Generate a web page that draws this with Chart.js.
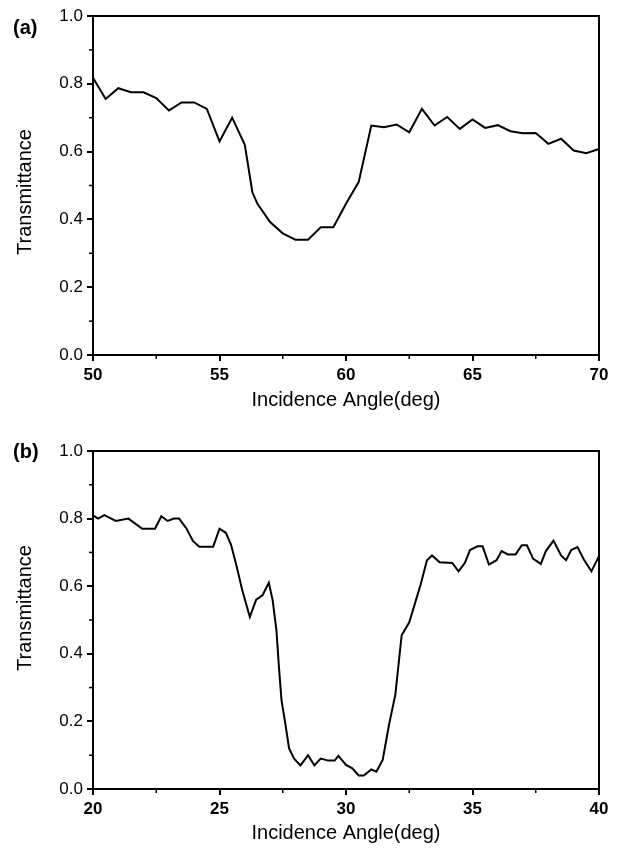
<!DOCTYPE html>
<html>
<head>
<meta charset="utf-8">
<script src="https://cdn.jsdelivr.net/npm/chart.js"></script>
<style>
  body { margin: 0; background: #fff; }
  #wrap { position: relative; width: 620px; height: 850px; }
  .panel { position: absolute; left: 0; width: 620px; height: 425px; }
  .tag { position: absolute; left: 13px; font: bold 20px "Liberation Sans", Arial, sans-serif; line-height: 1; color: #000; }
  .ytitle { position: absolute; left: 24px; width: 0; height: 0; }
  .ytitle span { position: absolute; left: 0; top: 0; transform: translate(-50%, -50%) rotate(-90deg);
                 white-space: nowrap; font: 20px "Liberation Sans", Arial, sans-serif; line-height: 1; color: #000; }
</style>
</head>
<body>
<div id="wrap">
  <div class="panel" style="top:0"><canvas id="chartA" width="620" height="425"></canvas></div>
  <div class="panel" style="top:425px"><canvas id="chartB" width="620" height="425"></canvas></div>
  <div class="tag" style="top:17px">(a)</div>
  <div class="tag" style="top:441px">(b)</div>
  <div class="ytitle" style="top:192px"><span class="yt"></span></div>
  <div class="ytitle" style="top:608px"><span class="yt"></span></div>
</div>
<script>
// (a) 入射角 50-70
const angleA = [50, 50.5, 51, 51.5, 52, 52.5, 53, 53.5, 54, 54.5, 55, 55.5, 56, 56.3, 56.5, 57, 57.5, 58, 58.5, 59, 59.5, 60, 60.5, 61, 61.5, 62, 62.5, 63, 63.5, 64, 64.5, 65, 65.5, 66, 66.5, 67, 67.5, 68, 68.5, 69, 69.5, 70];
const transA = [0.818, 0.755, 0.787, 0.775, 0.775, 0.758, 0.721, 0.745, 0.745, 0.726, 0.63, 0.70, 0.62, 0.48, 0.446, 0.392, 0.359, 0.34, 0.34, 0.377, 0.377, 0.446, 0.51, 0.677, 0.672, 0.68, 0.657, 0.726, 0.677, 0.702, 0.667, 0.695, 0.67, 0.678, 0.66, 0.654, 0.655, 0.623, 0.638, 0.603, 0.595, 0.608];

// (b) 入射角 20-40
const angleB = [20, 20.2, 20.45, 20.9, 21.4, 21.95, 22.45, 22.7, 22.95, 23.2, 23.4, 23.7, 23.95, 24.2, 24.75, 25.0, 25.25, 25.45, 25.65, 25.9, 26.2, 26.45, 26.7, 26.95, 27.1, 27.25, 27.35, 27.45, 27.6, 27.75, 27.95, 28.2, 28.5, 28.75, 29.0, 29.3, 29.55, 29.7, 30.0, 30.25, 30.5, 30.7, 31.0, 31.2, 31.45, 31.7, 31.95, 32.2, 32.5, 32.75, 32.95, 33.2, 33.4, 33.7, 34.2, 34.45, 34.7, 34.9, 35.2, 35.4, 35.65, 35.95, 36.15, 36.4, 36.7, 36.95, 37.15, 37.4, 37.7, 37.9, 38.2, 38.5, 38.7, 38.9, 39.15, 39.4, 39.7, 40.0];
const transB = [0.81, 0.80, 0.81, 0.793, 0.80, 0.77, 0.77, 0.807, 0.793, 0.80, 0.80, 0.77, 0.734, 0.717, 0.717, 0.77, 0.758, 0.724, 0.667, 0.588, 0.509, 0.56, 0.573, 0.61, 0.559, 0.47, 0.36, 0.263, 0.194, 0.12, 0.09, 0.07, 0.10, 0.07, 0.09, 0.084, 0.084, 0.098, 0.071, 0.061, 0.04, 0.04, 0.058, 0.051, 0.086, 0.19, 0.279, 0.455, 0.493, 0.555, 0.605, 0.677, 0.691, 0.671, 0.669, 0.644, 0.669, 0.707, 0.718, 0.718, 0.664, 0.677, 0.704, 0.694, 0.694, 0.721, 0.721, 0.681, 0.666, 0.704, 0.735, 0.691, 0.677, 0.707, 0.716, 0.679, 0.644, 0.689];

const xTitle = "Incidence Angle(deg)";
const yTitle = "Transmittance";
const FONT = "'Liberation Sans', Arial, sans-serif";

// y軸タイトルは元図で少しずれているのでHTMLで置く
document.querySelectorAll(".yt").forEach(el => { el.textContent = yTitle; });

// 上と右の枠線 + 副目盛り
const framePlugin = {
  id: "frame",
  afterDraw(chart) {
    const ctx = chart.ctx;
    const a = chart.chartArea;
    ctx.save();
    ctx.strokeStyle = "#000";
    ctx.lineWidth = 2;
    ctx.beginPath();
    ctx.moveTo(a.left - 1, a.top);
    ctx.lineTo(a.right, a.top);
    ctx.lineTo(a.right, a.bottom + 1);
    ctx.stroke();

    // minor ticks halfway between major ticks
    ctx.lineWidth = 1.5;
    const xs = chart.scales.x, ys = chart.scales.y;
    for (let i = 0; i < xs.ticks.length - 1; i++) {
      const v = (xs.ticks[i].value + xs.ticks[i + 1].value) / 2;
      const px = xs.getPixelForValue(v);
      ctx.beginPath();
      ctx.moveTo(px, a.bottom);
      ctx.lineTo(px, a.bottom + 4);
      ctx.stroke();
    }
    for (let i = 0; i < ys.ticks.length - 1; i++) {
      const v = (ys.ticks[i].value + ys.ticks[i + 1].value) / 2;
      const py = ys.getPixelForValue(v);
      ctx.beginPath();
      ctx.moveTo(a.left, py);
      ctx.lineTo(a.left - 4, py);
      ctx.stroke();
    }
    ctx.restore();
  }
};

function makePanel(id, xs, ys, xMin, xMax, padTop, xHeight, titlePad) {
  const points = xs.map((x, i) => ({ x: x, y: ys[i] }));
  return new Chart(document.getElementById(id), {
    type: "line",
    data: {
      datasets: [{
        data: points,
        borderColor: "#000",
        borderWidth: 2,
        pointRadius: 0,
        tension: 0,
        fill: false
      }]
    },
    options: {
      responsive: false,
      animation: false,
      layout: { padding: { left: 0, right: 21, top: padTop, bottom: 0 } },
      plugins: { legend: { display: false }, tooltip: { enabled: false } },
      scales: {
        x: {
          type: "linear",
          min: xMin,
          max: xMax,
          afterFit: (s) => { s.height = xHeight; },
          grid: { drawOnChartArea: false, drawTicks: true, tickLength: 6, color: "#000", lineWidth: 2 },
          border: { display: true, color: "#000", width: 2 },
          ticks: { stepSize: 5, padding: 4, color: "#000", font: { family: FONT, size: 17, weight: "bold" } },
          title: { display: true, text: xTitle, color: "#000", font: { family: FONT, size: 20 }, padding: { top: 0, bottom: titlePad } }
        },
        y: {
          min: 0,
          max: 1,
          afterFit: (s) => { s.width = 93; },
          grid: { drawOnChartArea: false, drawTicks: true, tickLength: 6, color: "#000", lineWidth: 2 },
          border: { display: true, color: "#000", width: 2 },
          ticks: { stepSize: 0.2, padding: 4, color: "#000", font: { family: FONT, size: 17 },
                   callback: (v) => v.toFixed(1) }
        }
      }
    },
    plugins: [framePlugin]
  });
}

makePanel("chartA", angleA, transA, 50, 70, 16, 70, 13);
makePanel("chartB", angleB, transB, 20, 40, 26, 61, 5);
</script>
</body>
</html>
